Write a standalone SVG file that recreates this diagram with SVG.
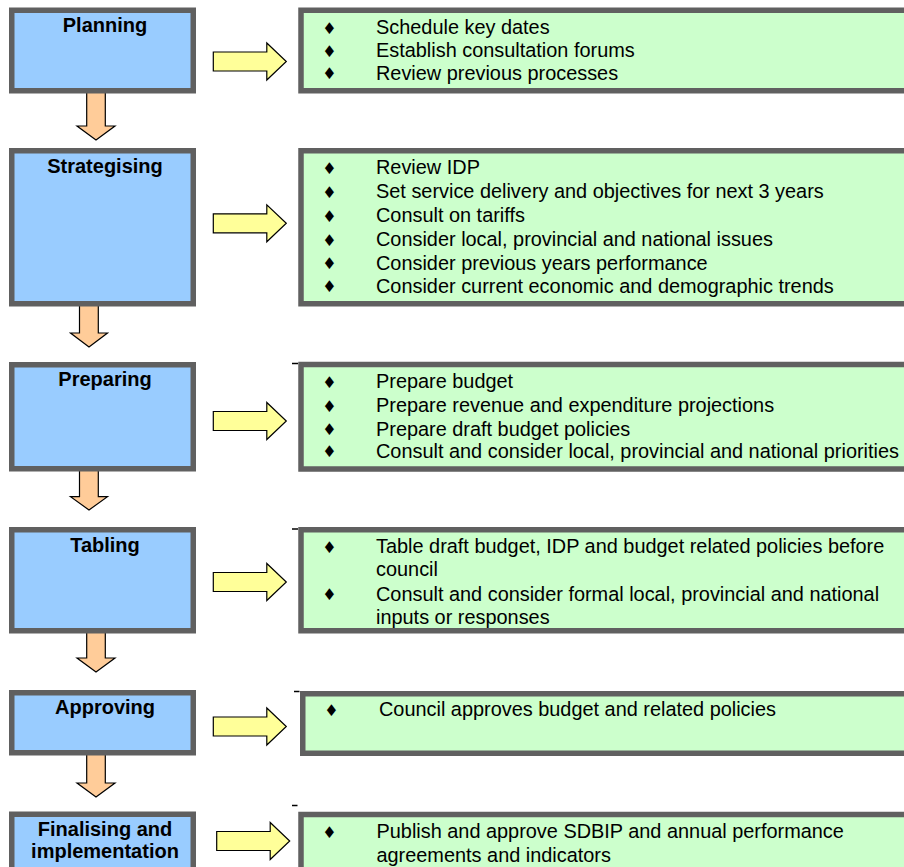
<svg xmlns="http://www.w3.org/2000/svg" width="904" height="867" viewBox="0 0 904 867">
<style>
.blue{fill:#99CCFF;stroke:#606060;stroke-width:5.5}
.green{fill:#CCFFCC;stroke:#606060;stroke-width:5.5}
.down{fill:#FFCC99;stroke:#000;stroke-width:1.2;stroke-linejoin:miter}
.right{fill:#FFFF99;stroke:#000;stroke-width:1.2}
.title{font-family:"Liberation Sans",Arial,sans-serif;font-weight:bold;font-size:20px;text-anchor:middle;fill:#000}
.body{font-family:"Liberation Sans",Arial,sans-serif;font-size:19.9px;fill:#000}
.bul{font-family:"DejaVu Sans",sans-serif;font-size:16px;fill:#000;text-anchor:middle}
.tick{stroke:#000;stroke-width:1.5}
</style>
<defs>
<path id="rarrow" class="right" d="M0,-9.5 H53.5 V-18.5 L73,0 L53.5,18.5 V9.5 H0 Z"/>
</defs>
<rect width="904" height="867" fill="#fff"/>
<g id="connectors">
<path class="down" d="M86.7,91 V126 H77 L96,140 L115,126 H105.3 V91 Z"/>
<path class="down" d="M79.5,304 V333 H70.5 L89,347 L107.5,333 H98.3 V304 Z"/>
<path class="down" d="M79.5,469 V496.7 H70.5 L89,510 L107.5,496.7 H98.3 V469 Z"/>
<path class="down" d="M86.7,631 V658 H77 L96,672 L115,658 H105.3 V631 Z"/>
<path class="down" d="M86.7,753 V783 H77 L96,797 L115,783 H105.3 V753 Z"/>
<use href="#rarrow" x="213.3" y="61.5"/>
<use href="#rarrow" x="213.3" y="223.3"/>
<use href="#rarrow" x="213.3" y="421"/>
<use href="#rarrow" x="213.3" y="582"/>
<use href="#rarrow" x="213.3" y="726.5"/>
<use href="#rarrow" x="216.7" y="841"/>
</g>
<g id="planning">
<rect class="blue" x="11.75" y="10.25" width="181.5" height="80.5"/>
<text class="title" x="105" y="31.5">Planning</text>
</g>
<g id="planning-tasks">
<rect class="green" x="301" y="10.25" width="620" height="80.5"/>
<text class="bul" x="329.5" y="33.5">♦</text><text class="body" x="376" y="34">Schedule key dates</text>
<text class="bul" x="329.5" y="56.5">♦</text><text class="body" x="376" y="57">Establish consultation forums</text>
<text class="bul" x="329.5" y="79">♦</text><text class="body" x="376" y="79.5">Review previous processes</text>
</g>
<g id="strategising">
<rect class="blue" x="11.75" y="150.75" width="181.5" height="153"/>
<text class="title" x="105" y="173.3">Strategising</text>
</g>
<g id="strategising-tasks">
<rect class="green" x="301" y="150.75" width="620" height="153"/>
<text class="bul" x="329.5" y="173.5">♦</text><text class="body" x="376" y="174">Review IDP</text>
<text class="bul" x="329.5" y="197.5">♦</text><text class="body" x="376" y="198">Set service delivery and objectives for next 3 years</text>
<text class="bul" x="329.5" y="221.5">♦</text><text class="body" x="376" y="222">Consult on tariffs</text>
<text class="bul" x="329.5" y="245.5">♦</text><text class="body" x="376" y="246">Consider local, provincial and national issues</text>
<text class="bul" x="329.5" y="269">♦</text><text class="body" x="376" y="269.5">Consider previous years performance</text>
<text class="bul" x="329.5" y="292">♦</text><text class="body" x="376" y="292.5">Consider current economic and demographic trends</text>
</g>
<g id="preparing">
<rect class="blue" x="11.75" y="364.75" width="181.5" height="104"/>
<text class="title" x="105" y="385.7">Preparing</text>
</g>
<g id="preparing-tasks">
<line class="tick" x1="292" y1="363.5" x2="298" y2="363.5"/>
<rect class="green" x="301" y="364.5" width="620" height="104.5"/>
<text class="bul" x="329.5" y="387.5">♦</text><text class="body" x="376" y="388">Prepare budget</text>
<text class="bul" x="329.5" y="411.5">♦</text><text class="body" x="376" y="412">Prepare revenue and expenditure projections</text>
<text class="bul" x="329.5" y="435">♦</text><text class="body" x="376" y="435.5">Prepare draft budget policies</text>
<text class="bul" x="329.5" y="457">♦</text><text class="body" x="376" y="457.5">Consult and consider local, provincial and national priorities</text>
</g>
<g id="tabling">
<rect class="blue" x="11.75" y="529.75" width="181.5" height="101"/>
<text class="title" x="105" y="552">Tabling</text>
</g>
<g id="tabling-tasks">
<line class="tick" x1="292" y1="529" x2="298" y2="529"/>
<rect class="green" x="301" y="529.75" width="620" height="101"/>
<text class="bul" x="329.5" y="552.5">♦</text><text class="body" x="376" y="553">Table draft budget, IDP and budget related policies before</text>
<text class="body" x="376" y="576">council</text>
<text class="bul" x="329.5" y="600">♦</text><text class="body" x="376" y="600.5">Consult and consider formal local, provincial and national</text>
<text class="body" x="376" y="623.5">inputs or responses</text>
</g>
<g id="approving">
<rect class="blue" x="11.75" y="692.75" width="181.5" height="60"/>
<text class="title" x="105" y="714">Approving</text>
</g>
<g id="approving-tasks">
<line class="tick" x1="294" y1="691.5" x2="299.5" y2="691.5"/>
<rect class="green" x="302.75" y="693.75" width="620" height="59.5"/>
<text class="bul" x="331.5" y="715.5">♦</text><text class="body" x="379" y="716">Council approves budget and related policies</text>
</g>
<g id="finalising">
<rect class="blue" x="11.75" y="814.25" width="181.5" height="60"/>
<text class="title" x="105" y="835.8">Finalising and</text>
<text class="title" x="105" y="857.5">implementation</text>
</g>
<g id="finalising-tasks">
<line class="tick" x1="292" y1="805.5" x2="297.5" y2="805.5"/>
<rect class="green" x="301" y="814.5" width="620" height="60"/>
<text class="bul" x="329.5" y="837.8">♦</text><text class="body" x="376.5" y="838.3">Publish and approve SDBIP and annual performance</text>
<text class="body" x="376.5" y="861.7">agreements and indicators</text>
</g>
</svg>
